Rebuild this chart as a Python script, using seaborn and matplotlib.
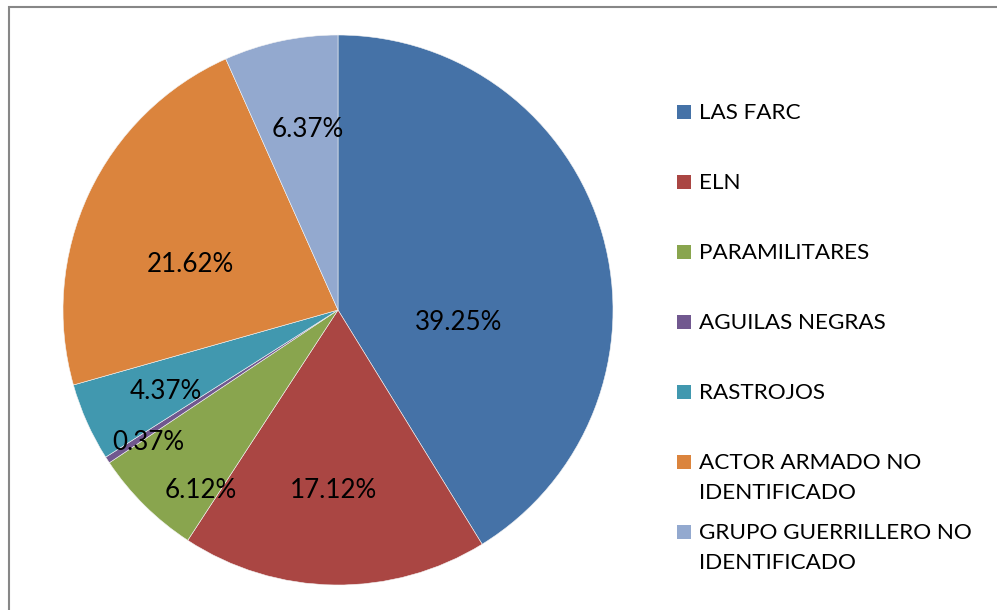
import matplotlib
matplotlib.use("Agg")
import matplotlib.pyplot as plt
import seaborn as sns
from matplotlib.patches import Rectangle

# ---- data ----
categories = ["LAS FARC", "ELN", "PARAMILITARES", "AGUILAS NEGRAS", "RASTROJOS",
              "ACTOR ARMADO NO\nIDENTIFICADO", "GRUPO GUERRILLERO NO\nIDENTIFICADO"]
values = [39.25, 17.12, 6.12, 0.37, 4.37, 21.62, 6.37]
value_labels = ["39.25%", "17.12%", "6.12%", "0.37%", "4.37%", "21.62%", "6.37%"]
colors = ["#4572A7", "#AA4643", "#89A54E", "#71588F", "#4198AF", "#DB843D", "#93A9CF"]

# label anchor positions inside the pie (in pie-radius units)
label_pos = [(0.44, -0.044), (-0.018, -0.655), (-0.498, -0.655), (-0.691, -0.48),
             (-0.625, -0.298), (-0.538, 0.164), (-0.109, 0.658)]

sns.set_theme(style="white")
plt.rcParams["font.family"] = ["Lato", "DejaVu Sans"]
palette = sns.color_palette(colors)

W, H = 997, 610
fig = plt.figure(figsize=(W / 100, H / 100), dpi=100)
fig.patch.set_facecolor("white")

cx, cy, r = 338, 310, 275
ax = fig.add_axes([(cx - r) / W, (H - cy - r) / H, 2 * r / W, 2 * r / H])
wedges, _ = ax.pie(values, colors=palette, startangle=90, counterclock=False,
                   wedgeprops=dict(edgecolor="#f4f4f4", linewidth=0.4))
ax.set_xlim(-1, 1)
ax.set_ylim(-1, 1)

for txt, (x, y) in zip(value_labels, label_pos):
    ax.text(x, y, txt, ha="center", va="center", fontsize=18.7, color="black")

# legend (drawn manually to match the fixed row pitch)
leg_x_box, leg_x_txt = 677, 699
row0, pitch, line_pitch, box = 112, 70, 30, 14
for i, (lab, col) in enumerate(zip(categories, palette)):
    yc = row0 + pitch * i
    fig.add_artist(Rectangle((leg_x_box / W, 1 - (yc + box / 2) / H), box / W, box / H,
                             transform=fig.transFigure, facecolor=col, edgecolor="none"))
    for j, line in enumerate(lab.split("\n")):
        fig.text(leg_x_txt / W, 1 - (yc + 1 + line_pitch * j) / H, line,
                 ha="left", va="center", fontsize=16.2, color="black")

# chart area border (extends beyond right/bottom edges)
fig.add_artist(Rectangle((9 / W, -0.1), 1.2, 1 - 6.7 / H + 0.1, transform=fig.transFigure,
                         fill=False, edgecolor="#878787", linewidth=1.5))

fig.savefig("out.png", dpi=100, facecolor="white")
